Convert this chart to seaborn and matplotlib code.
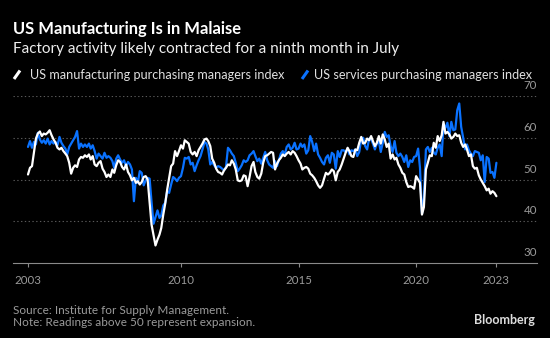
import pandas as pd
import matplotlib
matplotlib.use("Agg")
import matplotlib.pyplot as plt
import matplotlib.dates as mdates
from matplotlib.lines import Line2D
import seaborn as sns

# Monthly ISM readings, July 2003 through June 2023
start = "2003-07-01"
manufacturing = [
    51.2, 52.8, 53.2, 56.5, 59.8, 61.0,
    61.5, 60.4, 61.0, 60.8, 61.2, 61.8, 60.6, 59.6, 58.8, 57.6, 57.2, 57.6,
    56.8, 56.2, 55.6, 54.0, 51.4, 52.8, 53.4, 53.0, 54.8, 55.4, 55.2, 55.8,
    55.4, 56.0, 54.8, 55.6, 53.6, 53.2, 54.0, 54.4, 52.6, 51.8, 50.6, 51.2,
    50.6, 52.4, 51.6, 53.4, 54.6, 54.2, 53.0, 52.4, 53.6, 51.8, 51.0, 49.8,
    50.4, 49.2, 49.6, 48.8, 49.4, 50.6, 50.8, 50.0, 44.6, 39.2, 36.6, 34.2,
    35.6, 36.8, 38.4, 41.6, 44.2, 47.6, 50.4, 53.2, 53.8, 56.8, 55.6, 56.8,
    58.2, 57.4, 59.4, 59.0, 58.6, 56.6, 56.0, 56.6, 55.6, 57.0, 57.8, 58.6,
    59.6, 59.8, 59.2, 58.0, 55.0, 54.0, 52.6, 51.8, 51.6, 51.2, 52.2, 52.8,
    53.6, 53.4, 54.6, 53.8, 52.4, 49.8, 49.6, 49.8, 51.0, 50.8, 48.4, 50.6,
    53.2, 54.2, 51.8, 50.6, 50.2, 51.4, 54.0, 55.6, 55.8, 56.2, 56.6, 56.4,
    52.4, 53.8, 54.6, 55.2, 56.0, 55.6, 56.2, 56.6, 56.0, 56.8, 56.4, 55.6,
    54.6, 53.8, 52.4, 52.8, 53.0, 52.6, 51.4, 51.0, 50.4, 49.6, 48.6, 48.0,
    48.6, 50.2, 51.6, 51.2, 51.6, 52.4, 52.0, 49.8, 51.8, 52.4, 53.6, 55.0,
    56.4, 57.6, 56.8, 55.6, 55.4, 57.2, 57.0, 58.8, 60.2, 58.6, 58.8, 59.8,
    59.4, 60.4, 59.2, 58.0, 58.8, 60.4, 58.6, 60.8, 59.6, 57.8, 58.6, 55.0,
    56.0, 54.8, 55.2, 53.6, 52.8, 51.6, 51.2, 49.4, 48.2, 48.4, 48.2, 47.8,
    50.8, 50.0, 49.2, 41.6, 43.4, 52.4, 54.0, 55.8, 55.6, 58.8, 57.6, 60.4,
    59.2, 60.6, 63.8, 61.0, 61.4, 60.8, 59.8, 60.2, 61.0, 60.4, 60.6, 58.8,
    57.8, 58.4, 57.2, 55.6, 56.0, 53.2, 52.6, 52.8, 51.0, 50.0, 49.2, 48.4,
    47.4, 47.8, 46.6, 47.2, 46.8, 46.0,
]
services = [
    57.8, 59.2, 57.6, 59.0, 58.4, 61.2,
    59.6, 58.8, 59.4, 58.6, 59.8, 58.4, 59.2, 58.6, 59.0, 58.2, 60.2, 58.8,
    58.0, 57.4, 56.0, 57.8, 58.6, 59.4, 60.2, 61.6, 57.4, 58.6, 57.8, 58.4,
    57.8, 58.6, 57.4, 58.2, 56.8, 55.0, 56.2, 55.6, 55.0, 56.4, 55.2, 55.6,
    55.2, 54.4, 52.8, 55.0, 55.8, 54.8, 54.0, 54.6, 53.2, 54.2, 53.6, 52.4,
    44.8, 50.4, 49.2, 52.0, 51.6, 48.6, 49.8, 50.4, 50.2, 44.6, 39.4, 41.0,
    42.6, 40.8, 41.4, 43.8, 44.4, 47.2, 46.8, 48.8, 50.6, 50.2, 49.6, 50.4,
    50.8, 52.8, 55.2, 55.0, 55.4, 53.6, 54.0, 52.0, 53.4, 54.6, 55.6, 57.2,
    59.0, 58.6, 57.2, 53.6, 54.2, 53.4, 52.8, 53.2, 53.0, 52.6, 52.2, 53.0,
    57.6, 57.0, 56.2, 55.6, 54.0, 52.0, 52.6, 53.4, 54.6, 54.2, 54.6, 55.8,
    56.2, 56.8, 55.6, 54.4, 55.0, 53.8, 55.2, 56.6, 54.6, 53.6, 53.2, 52.8,
    54.4, 53.2, 54.6, 56.2, 56.8, 56.0, 57.8, 58.4, 57.2, 57.6, 58.8, 57.2,
    57.4, 58.6, 57.8, 58.4, 56.2, 57.0, 60.4, 59.0, 56.8, 58.6, 56.0, 55.2,
    54.2, 53.6, 55.2, 55.8, 54.0, 56.4, 56.0, 52.6, 56.8, 55.4, 57.0, 57.0,
    56.6, 57.4, 56.0, 57.0, 56.8, 57.2, 55.6, 56.6, 59.8, 60.0, 58.0, 57.2,
    59.8, 59.6, 58.6, 57.2, 58.6, 59.2, 56.6, 58.8, 61.4, 60.2, 60.6, 58.0,
    56.6, 59.2, 56.4, 55.6, 56.2, 55.4, 54.2, 55.8, 53.0, 54.6, 54.2, 55.4,
    55.6, 57.4, 52.8, 41.8, 45.6, 57.2, 57.8, 56.6, 57.6, 56.4, 56.0, 57.6,
    58.4, 55.6, 63.2, 62.4, 63.6, 60.4, 63.8, 61.8, 62.0, 66.6, 68.2, 62.6,
    60.0, 57.2, 58.4, 57.0, 56.2, 55.6, 56.8, 56.6, 56.4, 54.6, 55.8, 49.4,
    55.4, 55.0, 51.6, 51.8, 50.4, 54.0,
]
series_names = ["US manufacturing purchasing managers index",
                "US services purchasing managers index"]
y_ticks = [30, 40, 50, 60, 70]
x_tick_labels = ["2003", "2010", "2015", "2020", "2023"]

dates = pd.date_range(start, periods=len(manufacturing), freq="MS")
df = pd.concat([
    pd.DataFrame({"date": dates, "value": manufacturing, "series": series_names[0]}),
    pd.DataFrame({"date": dates, "value": services, "series": series_names[1]}),
])

BG = "#000000"
WHITE = "#ffffff"
BLUE = "#0a72ff"
GREY = "#9a9a9a"
FONT = ["Lato", "DejaVu Sans"]

sns.set_theme(style="dark")
plt.rcParams["font.family"] = FONT

fig = plt.figure(figsize=(5.5, 3.38), dpi=100, facecolor=BG)
W, H = 550, 338
ax = fig.add_axes([12.7 / W, 1 - 263 / H, (537 - 12.7) / W, (263 - 96) / H])
ax.set_facecolor(BG)

# services drawn first so manufacturing sits on top
sns.lineplot(data=df, x="date", y="value", hue="series",
             hue_order=[series_names[1], series_names[0]],
             palette=[BLUE, WHITE], linewidth=1.6, legend=False, ax=ax)

ax.set_ylim(30, 70)
x0 = mdates.date2num(dates[0])
x1 = mdates.date2num(dates[-1])
per_px = (x1 - x0) / (496.4 - 28)
ax.set_xlim(x0 - (28 - 12.7) * per_px, x1 + (537 - 496.4) * per_px)

for v in y_ticks[1:]:
    ax.axhline(v, color="#5a5a5a", linewidth=0.8, linestyle=(0, (1.2, 2.2)), zorder=0)
ax.set_yticks([])
for v in y_ticks:
    ax.annotate(str(v), xy=(1, v), xycoords=("axes fraction", "data"),
                xytext=(0, 5), textcoords="offset points",
                ha="right", va="baseline", color=GREY, fontsize=8.3)

tick_dates = [dates[0], pd.Timestamp("2010-01-01"), pd.Timestamp("2015-01-01"),
              pd.Timestamp("2020-01-01"), dates[-1]]
ax.set_xticks(mdates.date2num(tick_dates))
ax.set_xticklabels(x_tick_labels)
ax.tick_params(axis="x", colors="#8a8a8a", labelcolor=GREY, labelsize=8.3,
               length=3, width=0.8, direction="out", pad=6, bottom=True)
ax.set_xlabel("")
ax.set_ylabel("")
ax.grid(False)
for s in ["top", "left", "right"]:
    ax.spines[s].set_visible(False)
ax.spines["bottom"].set_color("#8a8a8a")
ax.spines["bottom"].set_linewidth(0.8)

fig.text(13 / W, 1 - 34 / H, "US Manufacturing Is in Malaise", color=WHITE,
         fontsize=11.9, fontweight="bold", va="baseline", ha="left")
fig.text(13 / W, 1 - 52.5 / H, "Factory activity likely contracted for a ninth month in July",
         color="#eeeeee", fontsize=11, va="baseline", ha="left")

# legend: slanted strokes followed by labels
for (mx, tx, col, name) in [(14, 30, WHITE, series_names[0]), (302, 314, BLUE, series_names[1])]:
    fig.add_artist(Line2D([mx / W, (mx + 6) / W], [1 - 79 / H, 1 - 70.5 / H],
                          color=col, linewidth=2.2, solid_capstyle="butt"))
    fig.text(tx / W, 1 - 79 / H, name, color="#e0e0e0", fontsize=9.1,
             va="baseline", ha="left")

fig.text(13 / W, 1 - 314.5 / H, "Source: Institute for Supply Management.",
         color=GREY, fontsize=8.5, va="baseline", ha="left")
fig.text(13 / W, 1 - 326.5 / H, "Note: Readings above 50 represent expansion.",
         color=GREY, fontsize=8.5, va="baseline", ha="left")
fig.text(535 / W, 1 - 324.5 / H, "Bloomberg", color="#dddddd", fontsize=9,
         fontweight="bold", va="baseline", ha="right")

fig.savefig("out.png", dpi=100, facecolor=BG)
